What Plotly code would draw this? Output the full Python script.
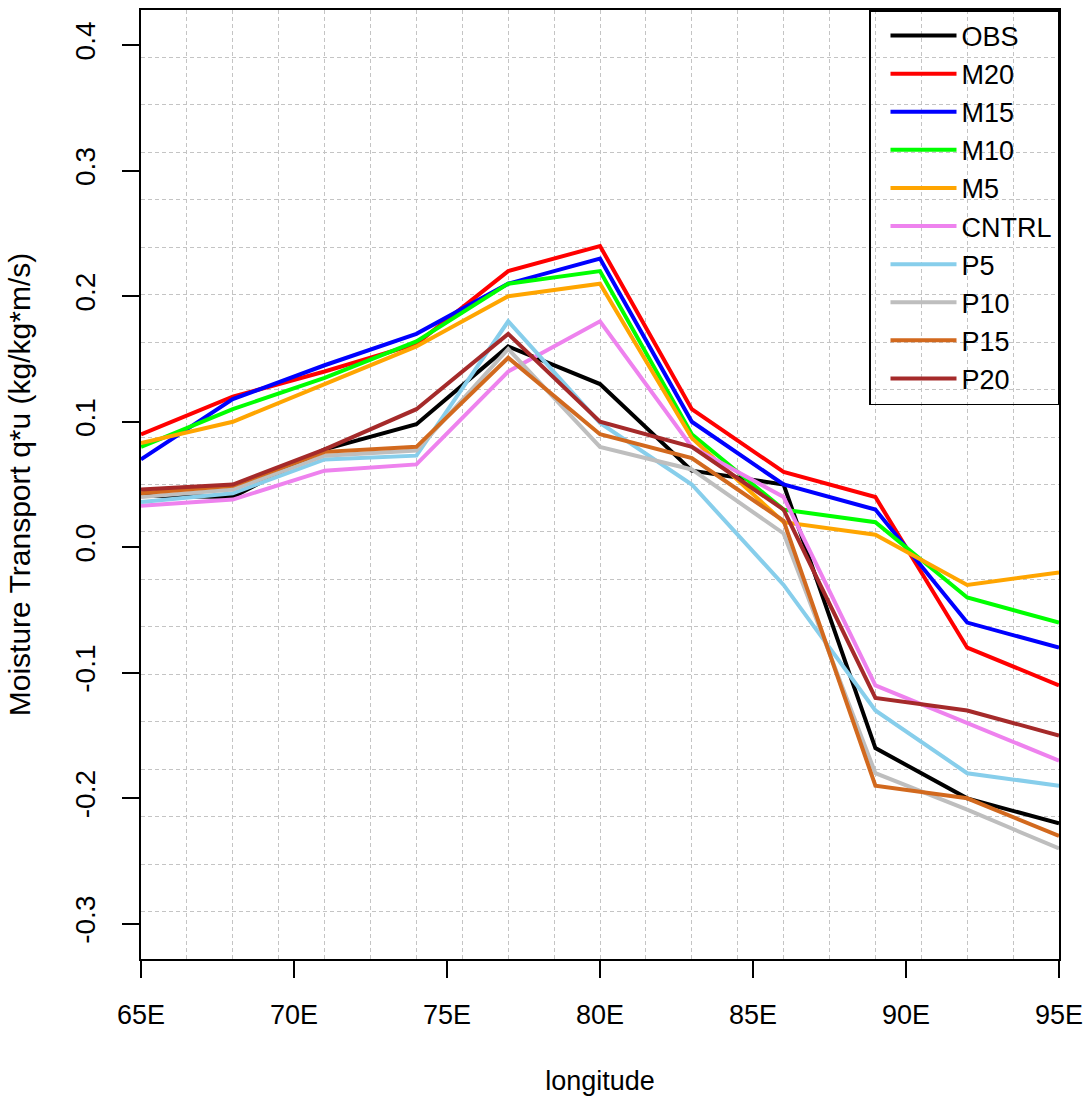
import plotly.graph_objects as go

longitude = [65, 68, 71, 74, 77, 80, 83, 86, 89, 92, 95]

OBS   = [0.041, 0.040, 0.078, 0.098, 0.160, 0.130, 0.061, 0.050, -0.160, -0.200, -0.220]
M20   = [0.090, 0.120, 0.140, 0.162, 0.220, 0.240, 0.110, 0.060, 0.040, -0.080, -0.110]
M15   = [0.070, 0.118, 0.145, 0.170, 0.210, 0.230, 0.100, 0.050, 0.030, -0.060, -0.080]
M10   = [0.080, 0.110, 0.135, 0.164, 0.210, 0.220, 0.090, 0.030, 0.020, -0.040, -0.060]
M5    = [0.083, 0.100, 0.130, 0.160, 0.200, 0.210, 0.087, 0.020, 0.010, -0.030, -0.020]
CNTRL = [0.033, 0.038, 0.061, 0.066, 0.140, 0.180, 0.080, 0.040, -0.110, -0.140, -0.170]
P5    = [0.036, 0.043, 0.070, 0.073, 0.180, 0.099, 0.050, -0.030, -0.130, -0.180, -0.190]
P10   = [0.040, 0.046, 0.073, 0.077, 0.158, 0.080, 0.062, 0.011, -0.180, -0.209, -0.240]
P15   = [0.043, 0.049, 0.076, 0.080, 0.151, 0.090, 0.071, 0.021, -0.190, -0.200, -0.230]
P20   = [0.046, 0.050, 0.078, 0.110, 0.170, 0.100, 0.080, 0.030, -0.120, -0.130, -0.150]

series_names = ["OBS", "M20", "M15", "M10", "M5", "CNTRL", "P5", "P10", "P15", "P20"]
series_values = [OBS, M20, M15, M10, M5, CNTRL, P5, P10, P15, P20]
series_colors = ["#000000", "#FF0000", "#0000FF", "#00FF00", "#FFA500",
                 "#EE82EE", "#87CEEB", "#BEBEBE", "#D2691E", "#A52A2A"]

x_tick_vals = [65, 70, 75, 80, 85, 90, 95]
x_tick_text = ["65E", "70E", "75E", "80E", "85E", "90E", "95E"]
y_tick_vals = [-0.3, -0.2, -0.1, 0.0, 0.1, 0.2, 0.3, 0.4]
y_tick_text = ["-0.3", "-0.2", "-0.1", "0.0", "0.1", "0.2", "0.3", "0.4"]

y_lo, y_hi = -0.3, 0.4
pad = 0.04 * (y_hi - y_lo)
y_range = [y_lo - pad, y_hi + pad]

FONT = "Liberation Sans, Arial, Helvetica, sans-serif"

fig = go.Figure()
for name, vals, col in zip(series_names, series_values, series_colors):
    fig.add_trace(go.Scatter(x=longitude, y=vals, mode="lines", name=name,
                             line=dict(color=col, width=4)))

grid_style = dict(showgrid=True, gridcolor="#C4C4C4", griddash="4px,3px", gridwidth=1, ticks="")

fig.update_layout(
    width=1091, height=1099,
    margin=dict(l=141, r=28, t=8, b=140),
    paper_bgcolor="white", plot_bgcolor="white",
    font=dict(family=FONT, size=27, color="black"),
    showlegend=True,
    legend=dict(x=1, xanchor="right", y=1, yanchor="top",
                bgcolor="rgba(0,0,0,0)", bordercolor="black", borderwidth=1.5,
                font=dict(size=27), itemwidth=66, indentation=15, tracegroupgap=0),
    xaxis=dict(range=[65, 95], tickmode="array", tickvals=x_tick_vals, ticktext=x_tick_text,
               ticks="outside", ticklen=17, tickwidth=1.5, tickcolor="black",
               showline=True, linecolor="black", linewidth=2, mirror=True,
               showgrid=False, zeroline=False, ticklabelstandoff=14,
               minor=dict(tick0=65.001, dtick=1.5, **grid_style),
               title=dict(text="longitude", font=dict(size=27), standoff=42)),
    yaxis=dict(range=y_range, tickmode="array", tickvals=y_tick_vals, ticktext=y_tick_text,
               tickangle=-90, tickfont=dict(size=28),
               ticks="outside", ticklen=17, tickwidth=1.5, tickcolor="black",
               showline=True, linecolor="black", linewidth=2, mirror=True,
               showgrid=False, zeroline=False, ticklabelstandoff=16,
               minor=dict(tick0=y_range[0], dtick=(y_range[1] - y_range[0]) / 20, **grid_style),
               title=dict(text="Moisture Transport q*u (kg/kg*m/s)", font=dict(size=30), standoff=30)),
)

fig.write_html("out.html")
